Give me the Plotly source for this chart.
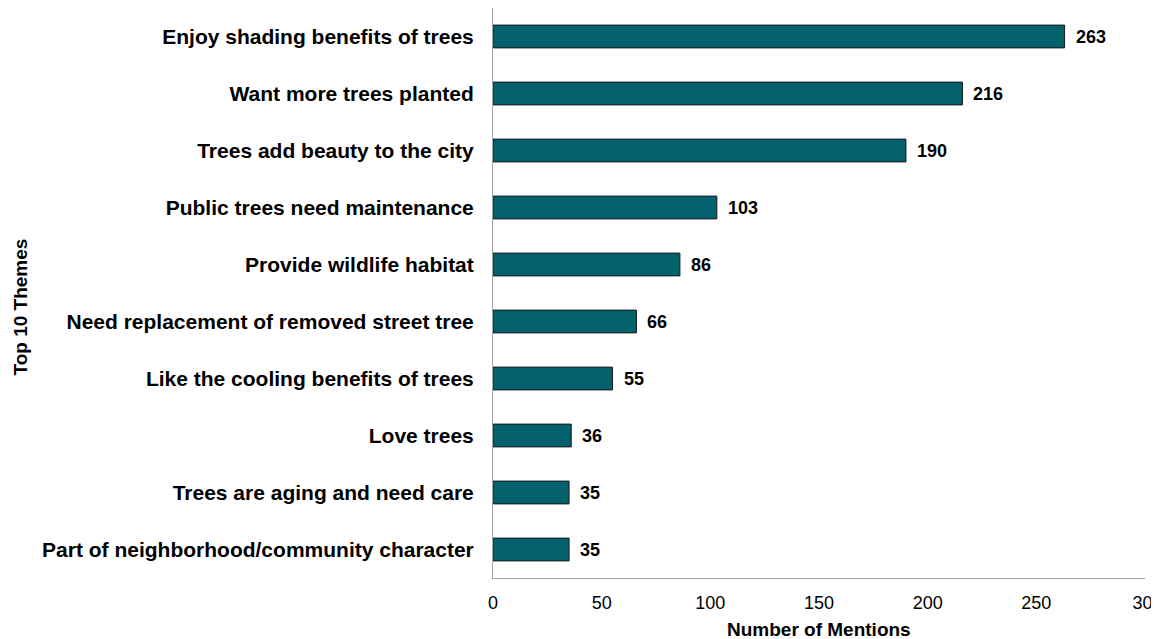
import plotly.graph_objects as go

categories = [
    "Enjoy shading benefits of trees",
    "Want more trees planted",
    "Trees add beauty to the city",
    "Public trees need maintenance",
    "Provide wildlife habitat",
    "Need replacement of removed street tree",
    "Like the cooling benefits of trees",
    "Love trees",
    "Trees are aging and need care",
    "Part of neighborhood/community character",
]
mentions = [263, 216, 190, 103, 86, 66, 55, 36, 35, 35]
tick_vals = [0, 50, 100, 150, 200, 250, 300]
tick_text = ["0", "50", "100", "150", "200", "250", "30\u00a0"]

FONT = "Liberation Sans, Arial, sans-serif"
BAR = "#03606D"

fig = go.Figure()
fig.add_trace(go.Bar(
    y=categories,
    x=mentions,
    orientation="h",
    marker=dict(color=BAR, line=dict(color="#1a1a1a", width=1)),
    hoverinfo="x+y",
))

for c, v in zip(categories, mentions):
    fig.add_annotation(
        x=v, y=c, xref="x", yref="y",
        text=f"<b>{v}</b>", showarrow=False,
        xanchor="left", xshift=9,
        font=dict(family=FONT, size=18, color="#000000"),
    )

fig.add_annotation(
    x=-0.725, y=0.475, xref="paper", yref="paper",
    text="<b>Top 10 Themes</b>", textangle=-90, showarrow=False,
    xanchor="center", yanchor="middle",
    font=dict(family=FONT, size=19, color="#000000"),
)
fig.add_annotation(
    x=0.5, y=-0.091, xref="paper", yref="paper",
    text="<b>Number of Mentions</b>", showarrow=False,
    xanchor="center", yanchor="middle",
    font=dict(family=FONT, size=19, color="#000000"),
)

fig.update_layout(
    width=1151, height=631,
    margin=dict(l=485, r=14, t=0, b=61),
    paper_bgcolor="white", plot_bgcolor="white",
    showlegend=False,
    bargap=0.6,
    font=dict(family=FONT, color="#000000"),
)
fig.update_xaxes(
    range=[0, 300], tickvals=tick_vals, ticktext=tick_text,
    showgrid=False, zeroline=False,
    showline=True, linecolor="#a6a6a6", linewidth=1,
    ticks="", ticklabelstandoff=8,
    tickfont=dict(family=FONT, size=18, color="#000000"),
    fixedrange=True,
)
fig.update_yaxes(
    categoryorder="array", categoryarray=categories,
    autorange="reversed",
    showgrid=False, zeroline=False,
    showline=True, linecolor="#a6a6a6", linewidth=1,
    ticks="", ticklabelstandoff=14,
    tickfont=dict(family=FONT, size=21, color="#000000"),
    tickprefix="<b>", ticksuffix="</b>",
    fixedrange=True,
)

fig.write_html("out.html")
